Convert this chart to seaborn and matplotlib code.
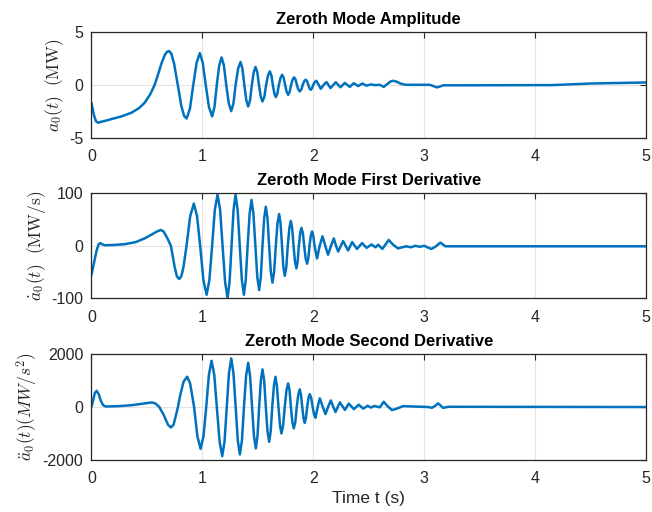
import matplotlib
matplotlib.use("Agg")
import matplotlib.pyplot as plt
import seaborn as sns
import pandas as pd

# ---- data ----
t_amp = [0.00, 0.02, 0.04, 0.06, 0.09, 0.13, 0.18, 0.27, 0.36, 0.43, 0.48, 0.53, 0.57,
         0.61, 0.63, 0.66, 0.68, 0.70, 0.72, 0.745, 0.778, 0.81, 0.835, 0.858,
         0.888, 0.918, 0.948, 0.977, 1.003, 1.03, 1.059, 1.088, 1.109, 1.13, 1.152, 1.173,
         1.194, 1.215, 1.238, 1.26, 1.28, 1.30, 1.322, 1.344, 1.361, 1.378, 1.396, 1.413,
         1.43, 1.446, 1.463, 1.479, 1.495, 1.51, 1.526, 1.542, 1.559, 1.575, 1.592, 1.608,
         1.622, 1.635, 1.649, 1.662, 1.676, 1.69, 1.705, 1.719, 1.733, 1.746, 1.76, 1.773,
         1.787, 1.80, 1.814, 1.827, 1.84, 1.852, 1.865, 1.878, 1.892, 1.905, 1.918, 1.932,
         1.944, 1.955, 1.966, 1.977, 1.988, 2.0, 2.014, 2.028, 2.048, 2.068, 2.094, 2.119,
         2.155, 2.203, 2.245, 2.284, 2.329, 2.365, 2.404, 2.443, 2.479, 2.52, 2.56, 2.60,
         2.635, 2.67, 2.70, 2.72, 2.75, 2.79, 2.83, 3.05, 3.09, 3.115, 3.145, 3.17, 3.30,
         4.15, 4.50, 5.00]
a_amp = [-1.7, -2.8, -3.45, -3.6, -3.5, -3.4, -3.25, -3.0, -2.65, -2.2, -1.7, -0.9, 0.0,
         1.3, 2.0, 2.8, 3.12, 3.2, 2.95, 2.0, 0.0, -2.0, -2.95, -3.2,
         -2.26, 0.0, 2.1, 3.0, 2.1, 0.0, -2.1, -3.0, -2.1, 0.0, 1.84, 2.6,
         1.84, 0.0, -1.77, -2.5, -1.77, 0.0, 1.53, 2.16, 1.53, 0.0, -1.46, -2.06,
         -1.46, 0.0, 1.2, 1.69, 1.2, 0.0, -1.12, -1.58, -1.12, 0.0, 0.9, 1.27,
         0.9, 0.0, -0.83, -1.17, -0.83, 0.0, 0.67, 0.95, 0.67, 0.0, -0.67, -0.95,
         -0.67, 0.0, 0.5, 0.70, 0.5, 0.0, -0.45, -0.63, -0.45, 0.0, 0.34, 0.48,
         0.34, 0.0, -0.34, -0.48, -0.34, 0.0, 0.27, 0.38, 0.0, -0.38, 0.0, 0.26,
         -0.31, 0.24, -0.24, 0.18, -0.20, 0.15, -0.12, 0.12, -0.08, 0.03, -0.03, 0.0,
         -0.2, 0.1, 0.33, 0.38, 0.3, 0.1, 0.0, 0.0, -0.15, -0.25, -0.15, -0.05, -0.05,
         -0.03, 0.12, 0.22]

t_d1 = [0.00, 0.02, 0.045, 0.065, 0.08, 0.095, 0.12, 0.20, 0.30, 0.40, 0.48, 0.54, 0.59,
        0.626, 0.65, 0.68, 0.716, 0.75, 0.77, 0.791, 0.81, 0.83, 0.857, 0.89, 0.923, 0.952,
        0.98, 1.009, 1.038, 1.063, 1.088, 1.112, 1.137, 1.16, 1.182, 1.205, 1.227, 1.245,
        1.263, 1.281, 1.299, 1.318, 1.337, 1.356, 1.374, 1.391, 1.408, 1.426, 1.443, 1.46,
        1.478, 1.495, 1.512, 1.527, 1.542, 1.557, 1.572, 1.587, 1.602, 1.617, 1.632, 1.647,
        1.662, 1.677, 1.692, 1.705, 1.718, 1.73, 1.743, 1.757, 1.770, 1.784, 1.797, 1.81,
        1.822, 1.835, 1.848, 1.859, 1.870, 1.882, 1.893, 1.906, 1.918, 1.931, 1.944, 1.955,
        1.966, 1.978, 1.989, 2.0, 2.011, 2.034, 2.058, 2.083, 2.108, 2.133, 2.16, 2.185,
        2.205, 2.224, 2.269, 2.314, 2.35, 2.394, 2.44, 2.48, 2.525, 2.561, 2.585,
        2.623, 2.65, 2.68, 2.72, 2.764, 2.80, 2.84, 2.88, 2.92, 2.96, 3.00, 3.03, 3.065,
        3.10, 3.146, 3.19, 3.30, 5.00]
d1 = [-55, -35, -10, 3, 5, 3, 1, 1.5, 3, 7, 14, 21, 27,
      30, 27, 16, 0, -40, -58, -63, -58, -40, 0, 56, 80, 56,
      0, -65, -93, -65, 0, 68, 97, 68, 0, -69, -99, -69,
      0, 68, 97, 68, 0, -65, -93, -65, 0, 61, 87, 61,
      0, -59, -84, -59, 0, 52, 74, 52, 0, -49, -70, -49,
      0, 42, 60, 42, 0, -40, -57, -40, 0, 33, 47, 33,
      0, -30, -43, -30, 0, 24, 34, 24, 0, -24, -34, -24,
      0, 19, 27, 19, 0, -24, 0, 18, 0, -17, 0, 14,
      0, -11, 9, -9, 7, -6, 5, -4, 2.5, -3, 2,
      -6, 2, 11, 2, -5, -3, -1, -3, 0, -2, 0, -3, -6,
      -2, 6, -1, -1, -1]

t_d2 = [0.00, 0.015, 0.03, 0.047, 0.065, 0.085, 0.105, 0.13, 0.25, 0.36, 0.45, 0.542,
        0.575, 0.61, 0.65, 0.69, 0.716, 0.74, 0.76, 0.78, 0.80, 0.83, 0.863, 0.89, 0.925,
        0.955, 0.984, 1.01, 1.035, 1.059, 1.083, 1.107, 1.13, 1.155, 1.179, 1.20, 1.22,
        1.24, 1.26, 1.28, 1.30, 1.319, 1.338, 1.357, 1.375, 1.394, 1.413, 1.43, 1.448,
        1.465, 1.482, 1.497, 1.512, 1.527, 1.542, 1.557, 1.572, 1.587, 1.602, 1.616, 1.63,
        1.645, 1.659, 1.672, 1.686, 1.70, 1.713, 1.728, 1.743, 1.758, 1.773, 1.786, 1.798,
        1.811, 1.824, 1.838, 1.851, 1.865, 1.878, 1.889, 1.90, 1.912, 1.923, 1.934, 1.945,
        1.957, 1.968, 1.981, 1.994, 2.007, 2.02, 2.04, 2.059, 2.085, 2.11, 2.134, 2.158,
        2.18, 2.20, 2.24, 2.285, 2.32, 2.366, 2.41, 2.45, 2.49, 2.52, 2.55, 2.60, 2.635,
        2.67, 2.71, 2.76, 2.81, 3.04, 3.07, 3.10, 3.125, 3.15, 3.17, 3.22, 5.00]
d2 = [0, 250, 520, 607, 480, 220, 60, 10, 25, 60, 110, 165,
      130, 0, -300, -680, -784, -680, -350, 0, 430, 950, 1140, 880, 0,
      -1120, -1594, -1120, 0, 1220, 1746, 1220, 0, -1310, -1872, -1310, 0,
      1285, 1836, 1285, 0, -1265, -1807, -1265, 0, 1170, 1670, 1170, 0,
      -1106, -1580, -1106, 0, 993, 1419, 993, 0, -930, -1328, -930, 0,
      797, 1138, 797, 0, -707, -1010, -707, 0, 622, 888, 622, 0,
      -574, -820, -574, 0, 462, 660, 462, 0, -425, -607, -425, 0,
      337, 482, 337, 0, -292, -417, 0, 319, 0, -277, 0, 240,
      0, -200, 170, -120, 120, -90, 80, -70, 40, -30, 30, -20, 190,
      20, -125, -60, 25, -10, -40, 40, 130, 40, -40, 0, -10]

titles = ["Zeroth Mode Amplitude", "Zeroth Mode First Derivative",
          "Zeroth Mode Second Derivative"]
ylabels = [r"$a_0(t)\ \ \mathrm{(MW)}$", r"$\dot{a}_0(t)\ \ \mathrm{(MW/s)}$",
           r"$\ddot{a}_0(t)(MW/s^2)$"]
yticks = [[-5, 0, 5], [-100, 0, 100], [-2000, 0, 2000]]
xticks = [0, 1, 2, 3, 4, 5]

sns.set_theme(style="white")
plt.rcParams["font.family"] = ["Liberation Sans", "DejaVu Sans"]
plt.rcParams["mathtext.fontset"] = "cm"
plt.rcParams["axes.unicode_minus"] = False

fig = plt.figure(figsize=(6.52, 5.12), dpi=100)
positions = [[0.1403, 0.7314, 0.8505, 0.206],
             [0.1403, 0.4170, 0.8505, 0.206],
             [0.1403, 0.1025, 0.8505, 0.206]]
series = [(t_amp, a_amp), (t_d1, d1), (t_d2, d2)]
dark = "#262626"

for i, (pos, (tx, vy)) in enumerate(zip(positions, series)):
    ax = fig.add_axes(pos)
    df = pd.DataFrame({"t": tx, "v": vy})
    sns.lineplot(data=df, x="t", y="v", ax=ax, color="#0072BD", linewidth=1.8,
                 sort=False, estimator=None)
    ax.set_xlim(0, 5)
    ax.set_ylim(yticks[i][0], yticks[i][-1])
    ax.set_xticks(xticks)
    ax.set_yticks(yticks[i])
    ax.set_xticklabels([str(x) for x in xticks])
    ax.set_yticklabels([str(y) for y in yticks[i]])
    ax.grid(True, color="#e3e3e3", linewidth=0.8)
    ax.set_axisbelow(True)
    ax.tick_params(direction="in", length=4, width=0.8, colors=dark,
                   labelsize=11.5, top=True, right=True)
    ax.tick_params(axis="x", pad=8)
    ax.tick_params(axis="y", pad=6)
    for sp in ax.spines.values():
        sp.set_visible(True)
        sp.set_color(dark)
        sp.set_linewidth(0.9)
    ax.set_title(titles[i], fontsize=12, fontweight="bold", color="black", pad=6)
    ax.set_ylabel(ylabels[i], fontsize=12.5, color=dark, labelpad=2)
    if i == 2:
        ax.set_xlabel("Time t (s)", fontsize=12.5, color=dark, labelpad=4)
    else:
        ax.set_xlabel("")

fig.savefig("out.png", dpi=100, facecolor="white")
